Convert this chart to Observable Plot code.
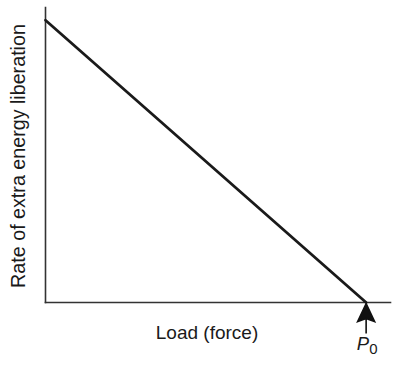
<!DOCTYPE html>
<html>
<head>
<meta charset="utf-8">
<script src="https://cdn.jsdelivr.net/npm/d3@7"></script>
<script src="https://cdn.jsdelivr.net/npm/@observablehq/plot@0.6"></script>
<style>
  html, body { margin: 0; padding: 0; background: #fff; }
  #chart svg { display: block; }
</style>
</head>
<body>
<div id="chart"></div>
<script>
// Data
const loads = [0, 1];          // load, relative to P0
const rates = [1, 0];          // rate of extra energy liberation (relative)
const P0 = 1;
const xLabel = "Load (force)";
const yLabel = "Rate of extra energy liberation";
const markerLabel = ["P", "0"];

const data = loads.map((x, i) => ({x, y: rates[i]}));

// arrowhead symbol, tip at origin pointing up, with a short shaft below
const arrowHead = {
  draw(context) {
    context.moveTo(0, 1);
    context.lineTo(8.5, 19);
    context.lineTo(0, 16);
    context.lineTo(-8.5, 19);
    context.closePath();
    context.moveTo(0, 16);
    context.lineTo(0, 31);
  }
};

const font = "Liberation Sans, Arial, sans-serif";

const chart = Plot.plot({
  width: 399,
  height: 365,
  marginLeft: 45,
  marginRight: 9,
  marginTop: 7,
  marginBottom: 63,
  style: {fontFamily: font, background: "#fff", overflow: "visible"},
  x: {domain: [0, 1.076], axis: null},
  y: {domain: [0, 1.045], axis: null},
  marks: [
    Plot.frame({anchor: "left", stroke: "#333", strokeWidth: 1.6}),
    Plot.frame({anchor: "bottom", stroke: "#333", strokeWidth: 1.6}),
    Plot.line(data, {x: "x", y: "y", stroke: "#1a1a1a", strokeWidth: 2.8}),
    Plot.dot([P0], {x: d => d, y: () => 0, symbol: arrowHead, r: 5, fill: "#111", stroke: "#111", strokeWidth: 1.6}),
    Plot.text([xLabel], {text: d => d, frameAnchor: "bottom", textAnchor: "middle", dx: -11, dy: 30, lineAnchor: "middle", fontSize: 19, fill: "#1a1a1a"}),
    Plot.text([yLabel], {text: d => d, frameAnchor: "left", textAnchor: "middle", dx: -27, dy: 1, rotate: -90, lineAnchor: "middle", fontSize: 19.7, fill: "#1a1a1a"}),
    Plot.text([markerLabel[0]], {text: d => d, x: () => P0, y: () => 0, textAnchor: "end", dx: 3, dy: 41.5, lineAnchor: "middle", fontSize: 18.5, fontStyle: "italic", fill: "#1a1a1a"}),
    Plot.text([markerLabel[1]], {text: d => d, x: () => P0, y: () => 0, textAnchor: "start", dx: 3, dy: 47, lineAnchor: "middle", fontSize: 15, fill: "#1a1a1a"})
  ]
});

document.getElementById("chart").appendChild(chart);
</script>
</body>
</html>
